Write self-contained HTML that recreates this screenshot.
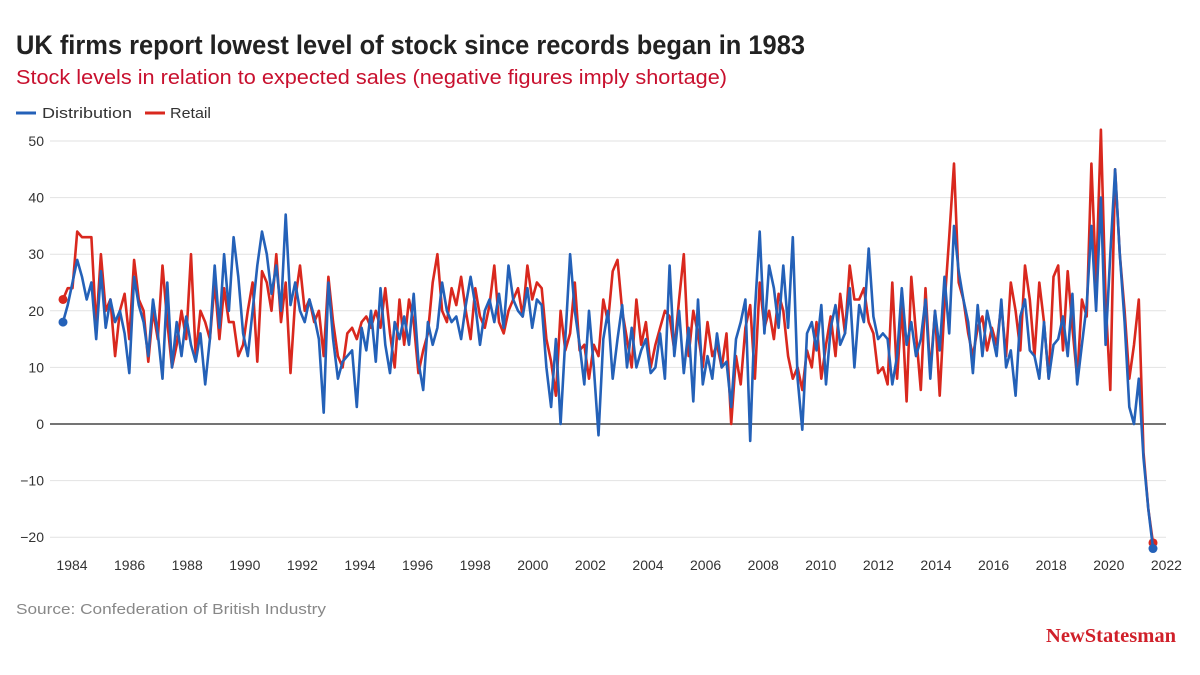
<!DOCTYPE html>
<html><head><meta charset="utf-8"><style>
html,body{margin:0;padding:0;background:#fff;}
svg{display:block;font-family:"Liberation Sans",sans-serif;}
</style></head><body>
<svg id="chart" width="1200" height="675" viewBox="0 0 1200 675" xmlns="http://www.w3.org/2000/svg">
<text x="16" y="54" font-family="'Liberation Sans Narrow','Liberation Sans',sans-serif" font-weight="bold" font-size="27" fill="#222" textLength="789" lengthAdjust="spacingAndGlyphs">UK firms report lowest level of stock since records began in 1983</text>
<text x="16" y="84" font-size="20" fill="#c8102e" textLength="711" lengthAdjust="spacingAndGlyphs">Stock levels in relation to expected sales (negative figures imply shortage)</text>
<g>
<g><line x1="16" y1="113" x2="36" y2="113" stroke="#2461b8" stroke-width="3"/><text x="42" y="118" font-size="15" fill="#333" textLength="90" lengthAdjust="spacingAndGlyphs">Distribution</text></g>
<g><line x1="145" y1="113" x2="165" y2="113" stroke="#d9281e" stroke-width="3"/><text x="170" y="118" font-size="15" fill="#333" textLength="41" lengthAdjust="spacingAndGlyphs">Retail</text></g>
</g>
<g id="grid"></g>
<g id="yaxis"></g>
<g id="xaxis"></g>
<g id="series"></g>
<text x="16" y="614" font-size="15" fill="#888" textLength="310" lengthAdjust="spacingAndGlyphs">Source: Confederation of British Industry</text>
<text x="1046" y="642" font-family="'Liberation Serif',serif" font-weight="bold" font-size="20" fill="#d0202a" textLength="130" lengthAdjust="spacingAndGlyphs">NewStatesman</text>
</svg>
<script>
const yTicks = [50,40,30,20,10,0,-10,-20];
const xTickYears = [1984,1986,1988,1990,1992,1994,1996,1998,2000,2002,2004,2006,2008,2010,2012,2014,2016,2018,2020,2022];
const distribution = [
18,21,25,29,26,22, 25,15,27,17,22,18, 20,16,9,26,21,18, 12,22,16,8,25,10, 18,12,19,14,11,16,
7,15,28,17,30,20, 33,26,16,12,20,28, 34,30,23,28,20,37, 21,25,20,18,22,19, 15,2,25,15,8,11,
12,13,3,17,13,20, 11,24,14,9,18,15, 19,14,23,11,6,18, 14,17,25,20,18,19, 15,21,26,21,14,20,
22,18,23,17,28,22, 20,19,24,17,22,21, 10,3,15,0,15,30, 20,14,7,20,10,-2, 15,20,8,15,21,10,
17,10,13,15,9,10, 16,8,28,12,20,9, 17,4,22,7,12,8, 16,10,11,3,15,18, 22,-3,20,34,16,28,
24,17,28,17,33,8, -1,16,18,13,21,7, 17,21,14,16,24,10, 21,18,31,19,15,16, 15,7,12,24,14,18,
12,15,22,8,20,13, 26,16,35,27,22,18, 9,21,12,20,16,12, 22,10,13,5,19,22, 13,12,8,18,8,14,
15,19,12,23,7,14, 21,35,20,40,14,30, 45,30,18,3,0,8, -6,-15,-22];
const retail = [
22,24,24,34,33,33, 33,17,30,20,22,12, 20,23,15,29,22,20, 11,20,15,28,18,10, 14,20,15,30,12,20,
18,15,25,15,24,18, 18,12,14,20,25,11, 27,25,20,30,18,25, 9,22,28,20,22,18, 20,12,26,18,12,10,
16,17,15,18,19,17, 20,17,24,16,10,22, 14,22,18,9,13,16, 25,30,20,18,24,21, 26,20,15,24,19,17,
21,28,18,16,20,22, 24,19,28,22,25,24, 15,11,5,20,13,16, 25,13,14,8,14,12, 22,18,27,29,20,15,
10,22,14,18,10,14, 17,20,19,13,22,30, 12,20,16,10,18,12, 14,10,16,0,12,7, 17,21,8,25,17,20,
15,23,20,12,8,10, 6,13,10,18,8,14, 19,12,23,16,28,22, 22,24,18,16,9,10, 7,25,8,21,4,26,
16,6,24,9,20,5, 21,33,46,25,22,16, 12,17,19,13,17,14, 21,12,25,20,13,28, 22,12,25,18,8,26,
28,13,27,17,8,22, 19,46,25,52,22,6, 45,30,20,8,14,22, -5,-15,-21];

const NS='http://www.w3.org/2000/svg';
const L=50,R=1166;
const yScale=v=>424-v*5.66;
const yearX=yr=>72+(yr-1984)*28.8;
const idxX=(i,n)=>63+i*(1153-63)/(n-1);
function mk(tag,attrs,parent){const e=document.createElementNS(NS,tag);for(const k in attrs)e.setAttribute(k,attrs[k]);parent.appendChild(e);return e;}
const grid=document.getElementById('grid'),ya=document.getElementById('yaxis'),xa=document.getElementById('xaxis'),ser=document.getElementById('series');
yTicks.forEach(v=>{
  const g=mk('line',{x1:L,x2:R,y1:yScale(v),y2:yScale(v),stroke:v===0?'#222':'#e2e2e2','stroke-width':v===0?1.2:1},grid);
  
  
  const t=mk('text',{x:44,y:yScale(v)+5,'text-anchor':'end','font-size':14,fill:'#333'},ya);
  t.textContent=v<0?'\u2212'+Math.abs(v):String(v);
  
  
});
xTickYears.forEach(yr=>{
  const t=mk('text',{x:yearX(yr),y:570,'text-anchor':'middle','font-size':14,fill:'#333'},xa);
  t.textContent=String(yr);
  
  
});
function drawLine(arr,color,name){
  const n=arr.length;
  const d=arr.map((v,i)=>(i?'L':'M')+idxX(i,n).toFixed(1)+' '+yScale(v).toFixed(1)).join(' ');
  const p=mk('path',{d:d,fill:'none',stroke:color,'stroke-width':2.6,'stroke-linejoin':'round'},ser);
  
  
  const c1=mk('circle',{cx:idxX(0,n),cy:yScale(arr[0]),r:4.5,fill:color},ser);
  
  
  const c2=mk('circle',{cx:idxX(n-1,n),cy:yScale(arr[n-1]),r:4.5,fill:color},ser);
  
  
}
drawLine(retail,'#d9281e','retail');
drawLine(distribution,'#2461b8','distribution');
</script>
</body></html>
